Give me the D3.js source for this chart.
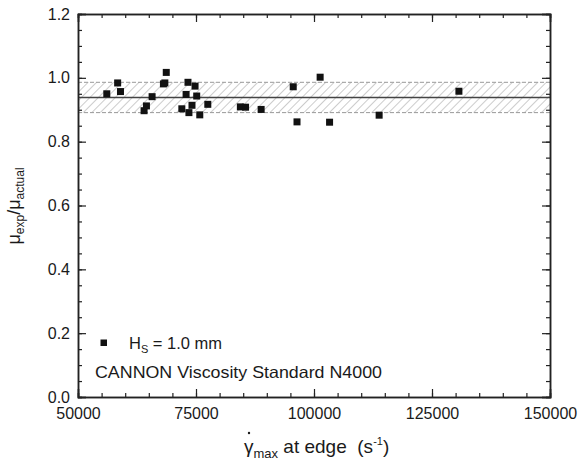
<!DOCTYPE html>
<html>
<head>
<meta charset="utf-8">
<script src="https://cdn.jsdelivr.net/npm/d3@7"></script>
<style>
  body { margin: 0; background: #fff; }
  text { font-family: "Liberation Sans", Arial, sans-serif; fill: #1a1a1a; white-space: pre; }
</style>
</head>
<body>
<script>
'use strict';
// shear rate at edge (1/s) and viscosity ratio
const shearRate = [56100, 58400, 59000, 64000, 64500, 65700, 68100, 68400, 68700,
  72000, 72900, 73300, 73500, 74150, 74800, 75150, 75800, 77500,
  84400, 85500, 88800, 95600, 96400, 101300, 103300, 113800, 130700];
const muRatio = [0.950, 0.984, 0.957, 0.897, 0.912, 0.941, 0.981, 0.984, 1.017,
  0.903, 0.948, 0.986, 0.891, 0.914, 0.974, 0.943, 0.884, 0.917,
  0.909, 0.908, 0.901, 0.972, 0.862, 1.002, 0.861, 0.883, 0.958];
const meanRatio = 0.938;
const bandRange = [0.891, 0.986];
const xTicks = [50000, 75000, 100000, 125000, 150000];
const yTicks = [0.0, 0.2, 0.4, 0.6, 0.8, 1.0, 1.2];

const W = 578, H = 466;
const m = {left: 78, right: 28, top: 14, bottom: 69};
const svg = d3.select('body').append('svg').attr('width', W).attr('height', H);

const x = d3.scaleLinear().domain([50000, 150000]).range([m.left, W - m.right]);
const y = d3.scaleLinear().domain([0, 1.2]).range([H - m.bottom, m.top]);

const defs = svg.append('defs');
const pat = defs.append('pattern').attr('id', 'hatch')
  .attr('patternUnits', 'userSpaceOnUse').attr('width', 6).attr('height', 6)
  .attr('patternTransform', 'rotate(45)');
pat.append('line').attr('x1', 0).attr('y1', 0).attr('x2', 0).attr('y2', 6)
  .attr('stroke', '#9a9a9a').attr('stroke-width', 1);

// band
svg.append('rect')
  .attr('x', x(50000)).attr('width', x(150000) - x(50000))
  .attr('y', y(bandRange[1])).attr('height', y(bandRange[0]) - y(bandRange[1]))
  .attr('fill', 'url(#hatch)');
bandRange.forEach(v => {
  svg.append('line').attr('x1', x(50000)).attr('x2', x(150000))
    .attr('y1', y(v)).attr('y2', y(v))
    .attr('stroke', '#999').attr('stroke-width', 1).attr('stroke-dasharray', '4,2');
});
svg.append('line').attr('x1', x(50000)).attr('x2', x(150000))
  .attr('y1', y(meanRatio)).attr('y2', y(meanRatio))
  .attr('stroke', '#444').attr('stroke-width', 1.5);

// axes with inward ticks
const minorX = d3.range(50000, 150001, 5000);
const minorY = d3.range(0, 1.2001, 0.05);
function drawAxis(axis, tr) {
  return svg.append('g').attr('transform', tr).call(axis)
    .call(g => g.selectAll('.domain').attr('stroke', '#222').attr('stroke-width', 1.5))
    .call(g => g.selectAll('.tick line').attr('stroke', '#222').attr('stroke-width', 1.2));
}
const bottomY = H - m.bottom;
drawAxis(d3.axisBottom(x).tickValues(minorX).tickSize(-4).tickFormat(''), `translate(0,${bottomY})`);
drawAxis(d3.axisBottom(x).tickValues(xTicks).tickSize(-8).tickFormat(d3.format('d')).tickPadding(11), `translate(0,${bottomY})`)
  .selectAll('text').attr('font-size', 16).attr('fill', '#1a1a1a');
drawAxis(d3.axisTop(x).tickValues(minorX).tickSize(-4).tickFormat(''), `translate(0,${m.top})`);
drawAxis(d3.axisTop(x).tickValues(xTicks).tickSize(-8).tickFormat(''), `translate(0,${m.top})`);
drawAxis(d3.axisLeft(y).tickValues(minorY).tickSize(-4).tickFormat(''), `translate(${m.left},0)`);
drawAxis(d3.axisLeft(y).tickValues(yTicks).tickSize(-8).tickFormat(d3.format('.1f')).tickPadding(8), `translate(${m.left},0)`)
  .selectAll('text').attr('font-size', 16).attr('fill', '#1a1a1a');
drawAxis(d3.axisRight(y).tickValues(minorY).tickSize(-4).tickFormat(''), `translate(${W - m.right},0)`);
drawAxis(d3.axisRight(y).tickValues(yTicks).tickSize(-8).tickFormat(''), `translate(${W - m.right},0)`);

// points
const s = 7;
svg.append('g').selectAll('rect').data(shearRate).join('rect')
  .attr('x', d => x(d) - s / 2)
  .attr('y', (d, i) => y(muRatio[i]) - s / 2)
  .attr('width', s).attr('height', s).attr('fill', '#111');

// legend
svg.append('rect').attr('x', 100.5).attr('y', 339.5).attr('width', 6.5).attr('height', 6.5).attr('fill', '#111');
const lg = svg.append('text').attr('x', 129).attr('y', 349).attr('font-size', 16.5);
lg.append('tspan').text('H');
lg.append('tspan').attr('font-size', 11).attr('dy', 4).text('S');
lg.append('tspan').attr('dy', -4).text(' = 1.0 mm');
svg.append('text').attr('x', 95).attr('y', 378).attr('font-size', 16.5)
  .attr('textLength', 287).attr('lengthAdjust', 'spacingAndGlyphs')
  .text('CANNON Viscosity Standard N4000');

// x title
const xt = svg.append('text').attr('x', 244).attr('y', 453).attr('font-size', 19);
xt.append('tspan').text('γ');
xt.append('tspan').attr('font-size', 13).attr('dy', 5).text('max');
xt.append('tspan').attr('dy', -5).text(' at edge  (s');
xt.append('tspan').attr('font-size', 11).attr('dy', -8).text('-1');
xt.append('tspan').attr('dy', 8).text(')');
svg.append('circle').attr('cx', 249).attr('cy', 433).attr('r', 1.2).attr('fill', '#1a1a1a');

// y title
const yt = svg.append('text').attr('transform', 'translate(20,206) rotate(-90)')
  .attr('text-anchor', 'middle').attr('font-size', 18);
yt.append('tspan').text('μ');
yt.append('tspan').attr('font-size', 12).attr('dy', 4).text('exp');
yt.append('tspan').attr('dy', -4).text('/μ');
yt.append('tspan').attr('font-size', 12).attr('dy', 4).text('actual');
</script>
</body>
</html>
